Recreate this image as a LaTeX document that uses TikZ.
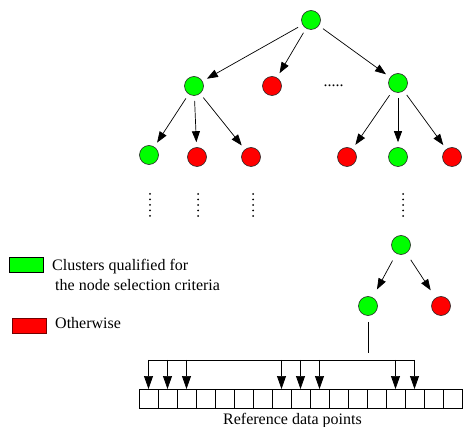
\documentclass[tikz,border=0pt]{standalone}
\usepackage{fontspec}
\setmainfont{Liberation Serif}
\newfontfamily\figfont{Liberation Serif}
\usetikzlibrary{arrows.meta}

\begin{document}
\begin{tikzpicture}[x=1pt,y=-1pt,
	Qual/.style={circle,draw=black!85,line width=0.6pt,fill=green,minimum size=19pt,inner sep=0pt},
	Other/.style={Qual,fill=red},
	Arr/.style={-{Triangle[length=11pt,width=8pt]},line width=0.7pt,shorten <=5pt,shorten >=5pt},
	DownArr/.style={-{Triangle[length=13pt,width=9pt]},line width=0.7pt},
	Vdots/.style={line width=2pt,line cap=round,dash pattern=on 0pt off 5.5pt},
	Cell/.style={draw,line width=0.7pt,minimum width=19pt,minimum height=19pt,inner sep=0pt,outer sep=0pt},
	Key/.style={draw,line width=0.8pt,minimum width=34pt,minimum height=15pt,inner sep=0pt},
	Txt/.style={inner sep=0pt},
	font=\figfont\fontsize{16}{19}\selectfont
		]
\useasboundingbox (0,0) rectangle (463,427);

	% tree
	\node[Qual] (root) at (311,20) {};
	\node[Qual] (n1) at (194,86) {};
	\node[Other] (n2) at (272,86) {};
	\node[Txt,anchor=base] (hdots) at (333.5,86.5) {.....};
	\node[Qual] (n3) at (398,83) {};
	
	\node[Qual] (n11) at (149,155) {};
	\node[Other] (n12) at (197,157) {};
	\node[Other] (n13) at (251,157) {};
	\node[Other] (n31) at (347,157) {};
	\node[Qual] (n32) at (398,157) {};
	\node[Other] (n33) at (452,157) {};
	
	\draw[Arr] (root) -- (n1);
	\draw[Arr] (root) -- (n2);
	\draw[Arr] (root) -- (n3);
	\foreach \c in {n11,n12,n13} \draw[Arr] (n1) -- (\c);
	\foreach \c in {n31,n32,n33} \draw[Arr] (n3) -- (\c);
	
	\foreach \x in {150,198,253,403} \draw[Vdots] (\x,194) -- (\x,216.5);
	
	\node[Qual] (d) at (401,245) {};
	\node[Qual] (d1) at (368,306) {};
	\node[Other] (d2) at (441,306) {};
	\draw[Arr,shorten <=8pt,shorten >=9pt] (d) -- (d1);
	\draw[Arr,shorten <=8pt,shorten >=9pt] (d) -- (d2);
	
	% reference data points
	\foreach \i in {0,...,16} \node[Cell] (c\i) at (148.5+19*\i,398.5) {};
	\coordinate (stub) at (368,353);
	\coordinate (bus) at (0,360);
	\draw[line width=0.7pt] ([yshift=-6pt]d1.south) -- (stub);
	\draw[line width=0.7pt] (c0.north |- bus) -- (c14.north |- bus);
	\foreach \i in {0,1,2,7,8,9,13,14} \draw[DownArr] (c\i.north |- bus) -- (c\i.north);
	\node[Txt,anchor=base] (refs) at (292.5,424) {Reference data points};
	
	% legend
	\node[Key,fill=green] (keyq) at (26.5,265) {};
	\node[Txt,anchor=base west] (txtq) at (52,270.5) {Clusters qualified for};
	\node[Txt,anchor=base west] (txtq2) at (55,291) {the node selection criteria};
	\node[Key,fill=red,draw=red!45!black] (keyo) at (29.7,325.5) {};
	\node[Txt,anchor=base west] (txto) at (55,329) {Otherwise};

\end{tikzpicture}
\end{document}
